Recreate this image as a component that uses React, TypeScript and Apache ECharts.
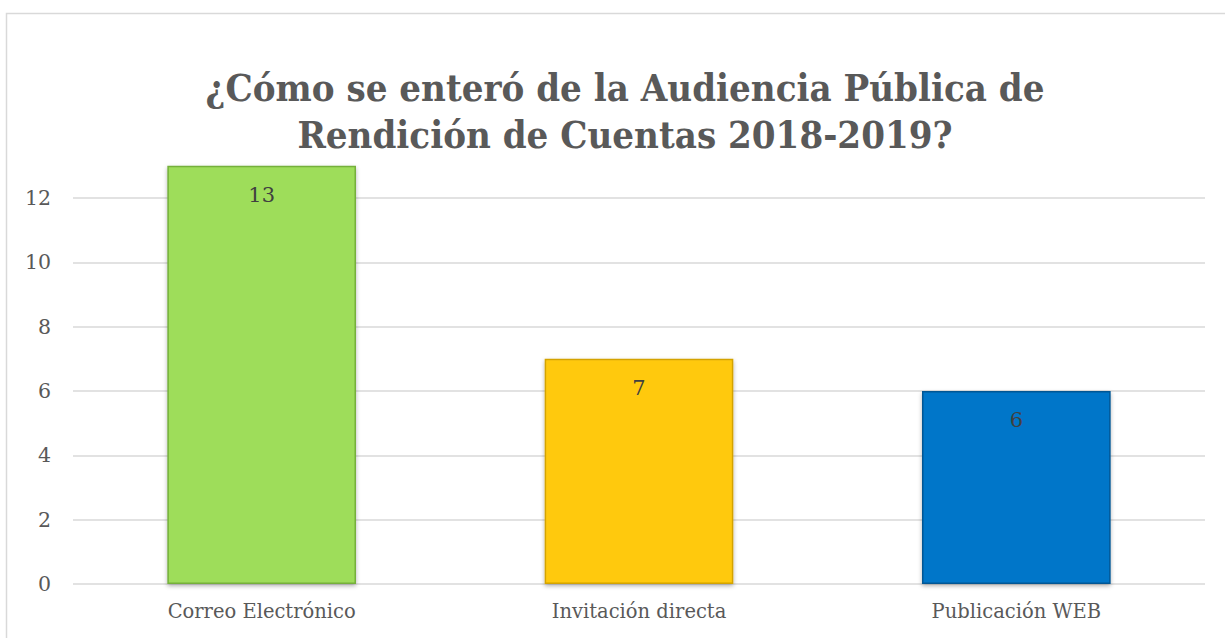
import React, { useEffect, useRef } from "react";
import * as echarts from "echarts";

const categories = ["Correo Electrónico", "Invitación directa", "Publicación WEB"];
const values = [13, 7, 6];
const barColors = ["#9edd5a", "#ffc90b", "#0676c9"];
const barBorders = ["#74b03a", "#d4a300", "#035795"];
const yTicks = [0, 2, 4, 6, 8, 10, 12, 14];
const titleText = "¿Cómo se enteró de la Audiencia Pública de\nRendición de Cuentas 2018-2019?";

export default function App() {
  const ref = useRef<HTMLDivElement>(null);
  useEffect(() => {
    if (!ref.current) return;
    const chart = echarts.init(ref.current, undefined, { renderer: "svg" });
    const serif = '"DejaVu Serif", "Liberation Serif", serif';
    chart.setOption({
      animation: false,
      backgroundColor: "#ffffff",
      title: {
        text: titleText,
        left: 620,
        top: 59,
        textAlign: "center",
        textStyle: {
          fontFamily: '"DejaVu Serif Condensed", "DejaVu Serif", serif',
          fontWeight: "bold",
          fontSize: 38,
          lineHeight: 47,
          color: "#595959",
        },
      },
      graphic: [
        {
          type: "rect",
          shape: { x: 6.5, y: 13.5, width: 1300, height: 700 },
          style: { fill: "none", stroke: "#d9d9d9", lineWidth: 1.5 },
          silent: true,
          z: -10,
        },
      ],
      grid: { left: 73, right: 20, top: 584 - 14 * 32.17, bottom: 54, containLabel: false },
      xAxis: {
        type: "category",
        data: categories,
        axisLine: { show: false },
        axisTick: { show: false },
        axisLabel: { color: "#595959", fontFamily: serif, fontSize: 19.5, margin: 17 },
      },
      yAxis: {
        type: "value",
        min: yTicks[0],
        max: yTicks[yTicks.length - 1],
        interval: 2,
        axisLine: { show: false },
        axisTick: { show: false },
        axisLabel: {
          color: "#595959",
          fontFamily: serif,
          fontSize: 20.5,
          margin: 22,
          formatter: (v: number) => (v === yTicks[yTicks.length - 1] ? "" : String(v)),
        },
        splitLine: {
          show: true,
          lineStyle: {
            color: yTicks.map((t, i) => (i === yTicks.length - 1 ? "rgba(0,0,0,0)" : "#d9d9d9")),
            width: 1.5,
          },
        },
      },
      series: [
        {
          type: "bar",
          barWidth: "50%",
          data: values.map((v, i) => ({
            value: v,
            itemStyle: {
              color: barColors[i],
              borderColor: barBorders[i],
              borderWidth: 1.5,
              shadowColor: "rgba(0,0,0,0.3)",
              shadowBlur: 4,
              shadowOffsetY: 2,
            },
          })),
          label: {
            show: true,
            position: "insideTop",
            distance: 19,
            color: "#404040",
            fontFamily: serif,
            fontSize: 21,
          },
        },
      ],
    });
    return () => chart.dispose();
  }, []);
  return (
    <div
      ref={ref}
      style={{ position: "fixed", left: 0, top: 0, width: 1225, height: 638 }}
    />
  );
}
